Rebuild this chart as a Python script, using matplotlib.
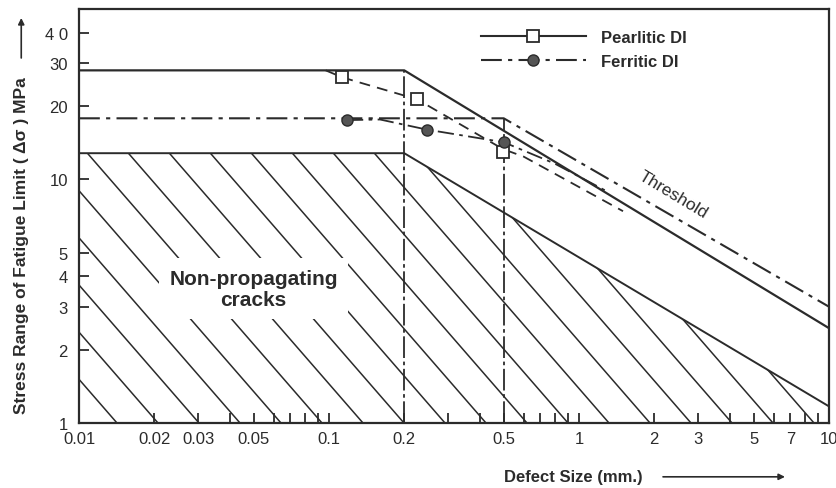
import numpy as np
import matplotlib
matplotlib.use("Agg")
import matplotlib.pyplot as plt
from matplotlib.lines import Line2D
from matplotlib.patches import Polygon

plt.rcParams["font.family"] = ["Liberation Sans", "DejaVu Sans"]

INK = "#2b2b2b"

# threshold lines (defect size in mm, stress range in MPa)
pearl_thr_x = [0.01, 0.2, 10]
pearl_thr_y = [28.0, 28.0, 2.45]
ferr_thr_x = [0.01, 0.5, 10]
ferr_thr_y = [17.8, 17.8, 3.0]
npc_x = [0.01, 0.2, 10]
npc_y = [12.8, 12.8, 1.17]

# measured points
pearl_pts_x = [0.113, 0.225, 0.497]
pearl_pts_y = [26.2, 21.3, 13.0]
ferr_pts_x = [0.118, 0.246, 0.5]
ferr_pts_y = [17.5, 16.0, 14.2]

# hand drawn trend curves through the points
pearl_fit_x = [0.097, 0.113, 0.225, 0.497, 0.6, 1.5]
pearl_fit_y = [28.0, 26.2, 21.3, 13.3, 12.4, 7.4]
ferr_fit_x = [0.118, 0.16, 0.246, 0.5, 0.8, 1.3]
ferr_fit_y = [17.5, 17.6, 16.0, 14.2, 11.6, 8.9]

# vertical dividers at the corners
divider_x = [0.2, 0.5]
divider_top = [28.0, 17.8]

xticks = [d * m for d in (0.01, 0.1, 1) for m in range(1, 10)] + [10]
xlabels_shown = {0.01: "0.01", 0.02: "0.02", 0.03: "0.03", 0.05: "0.05", 0.1: "0.1",
                 0.2: "0.2", 0.5: "0.5", 1: "1", 2: "2", 3: "3", 5: "5", 7: "7", 10: "10"}
yticks = [1, 2, 3, 4, 5, 10, 20, 30, 40]
yticklabels = ["1", "2", "3", "4", "5", "10", "20", "30", "4 0"]

fig = plt.figure(figsize=(8.37, 4.89), dpi=100)
ax = fig.add_axes([79 / 837, 1 - 424 / 489, 750 / 837, 414 / 489])
ax.set_xscale("log")
ax.set_yscale("log")
ax.set_xlim(0.01, 10)
ax.set_ylim(1, 50)

for s in ax.spines.values():
    s.set_linewidth(1.6)
    s.set_color(INK)

# hatched region of non-propagating cracks
region = Polygon(list(zip(npc_x, npc_y)) + [(npc_x[-1], 1), (npc_x[0], 1)],
                 closed=True, facecolor="none", edgecolor="none")
ax.add_patch(region)
bb = ax.get_window_extent()
W, H = bb.width, bb.height
slope = 1.15
for xb in np.arange(38, W + H / slope, 41):
    ax.plot([(xb - H / slope) / W, xb / W], [1, 0], transform=ax.transAxes,
            color=INK, lw=1.1, clip_path=region, zorder=1)

ax.plot(npc_x, npc_y, color=INK, lw=1.4, zorder=2)
ax.plot(pearl_thr_x, pearl_thr_y, color=INK, lw=1.6, zorder=3)
ax.plot(ferr_thr_x, ferr_thr_y, color=INK, lw=1.5, ls=(0, (10, 3, 2, 3)), zorder=3)
for x, top in zip(divider_x, divider_top):
    ax.plot([x, x], [1, top], color=INK, lw=1.3, ls=(0, (12, 2, 2, 2)), zorder=3)

ax.plot(pearl_fit_x, pearl_fit_y, color=INK, lw=1.3, ls=(0, (6, 4)), zorder=3)
ax.plot(ferr_fit_x, ferr_fit_y, color=INK, lw=1.3, ls=(0, (9, 3, 2, 3)), zorder=3)
ax.plot(pearl_pts_x, pearl_pts_y, ls="none", marker="s", ms=8, mfc="white",
        mec=INK, mew=1.3, zorder=4)
ax.plot(ferr_pts_x, ferr_pts_y, ls="none", marker="o", ms=8, mfc="#555555",
        mec=INK, mew=1.0, zorder=4)

ax.set_xticks(xticks)
ax.set_xticklabels([xlabels_shown.get(round(t, 3), "") for t in xticks])
ax.xaxis.set_minor_locator(matplotlib.ticker.NullLocator())
ax.set_yticks(yticks)
ax.set_yticklabels(yticklabels)
ax.yaxis.set_minor_locator(matplotlib.ticker.NullLocator())
ax.tick_params(direction="in", length=7, width=1.3, color=INK, labelcolor=INK,
               labelsize=12)
ax.tick_params(axis="x", pad=6)
ax.tick_params(axis="y", pad=8)

ax.text(0.05, 3.55, "Non-propagating\ncracks", ha="center", va="center",
        fontsize=15, fontweight="bold", color=INK, linespacing=1.15, zorder=5,
        bbox=dict(boxstyle="square,pad=0.5", fc="white", ec="none"))
ax.text(2.38, 8.7, "Threshold", rotation=-31, ha="center", va="center",
        fontsize=12.5, color=INK, zorder=5)

ax.set_ylabel("Stress Range of Fatigue Limit ( \u0394\u03c3 ) MPa", fontsize=12.5,
              fontweight="bold", color=INK)
ax.yaxis.set_label_coords(-0.066, 0.431)
ax.annotate("", xy=(-0.077, 0.985), xytext=(-0.077, 0.875), xycoords="axes fraction",
            arrowprops=dict(arrowstyle="-|>", color=INK, lw=1.2, mutation_scale=9))
ax.text(0.659, -0.130, "Defect Size (mm.)", transform=ax.transAxes, ha="center",
        va="center", fontsize=12, fontweight="bold", color=INK)
ax.annotate("", xy=(0.945, -0.130), xytext=(0.775, -0.130), xycoords="axes fraction",
            arrowprops=dict(arrowstyle="-|>", color=INK, lw=1.2, mutation_scale=9))

handles = [
    Line2D([], [], color=INK, lw=1.5, marker="s", ms=8, mfc="white", mec=INK,
           mew=1.3, markevery=[2]),
    Line2D([], [], color=INK, lw=1.5, ls=(0, (10, 3, 2, 3)), marker="o", ms=8,
           mfc="#555555", mec=INK, markevery=[2]),
]
leg = ax.legend(handles, ["Pearlitic DI", "Ferritic DI"], loc="upper left",
                bbox_to_anchor=(0.516, 0.985), frameon=False, numpoints=1,
                handlelength=6.3, handletextpad=0.9, labelspacing=0.5,
                prop=dict(weight="bold", size=12))
for t in leg.get_texts():
    t.set_color(INK)

fig.savefig("out.png", dpi=100, facecolor="white")
